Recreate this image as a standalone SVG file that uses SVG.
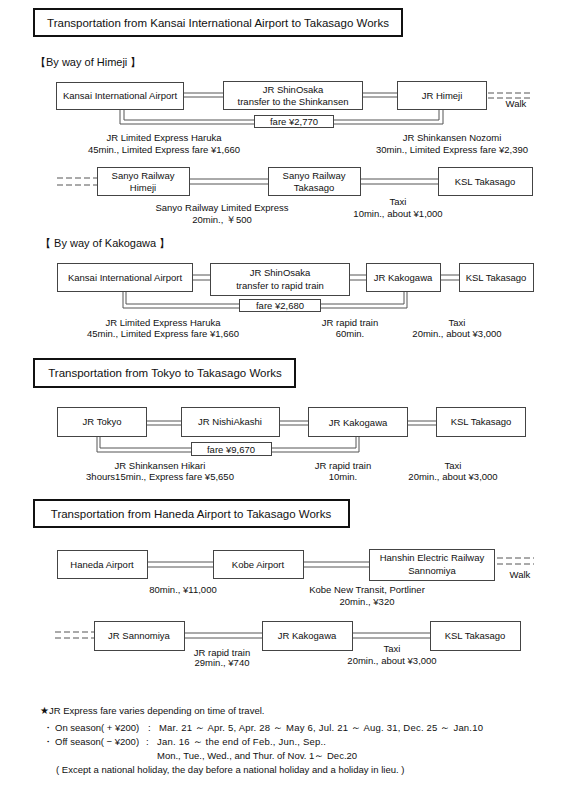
<svg xmlns="http://www.w3.org/2000/svg" width="570" height="785" viewBox="0 0 570 785">
<style>
text{font-family:"Liberation Sans",Arial,sans-serif;font-size:9.5px;fill:#111}
.c{text-anchor:middle}
.title{fill:#fff;stroke:#111;stroke-width:2}
.tt{font-size:11.5px}
.sub{font-size:11px}
.box{fill:#fff;stroke:#444;stroke-width:1}
.ln{fill:none;stroke:#555;stroke-width:1}
.dash{fill:none;stroke:#555;stroke-width:1;stroke-dasharray:6,3}
</style>
<rect width="570" height="785" fill="#fff"/>

<g id="connectors">
  <!-- Himeji row -->
  <path class="ln" d="M183,93H223M183,97H223M362,93H397M362,97H397"/>
  <path class="dash" d="M488,93H532M488,98H532"/>
  <path class="ln" d="M120,109V124H254M124,109V120H254M333,124H443V109M333,120H439V109"/>
  <!-- Sanyo row -->
  <path class="dash" d="M57,178H97M57,185H97"/>
  <path class="ln" d="M189,179H268M189,184H268M360,179H438M360,184H438"/>
  <!-- Kakogawa row -->
  <path class="ln" d="M192,275H210M192,280H210M349,275H366M349,280H366M440,275H459M440,280H459"/>
  <path class="ln" d="M123,292V308H239M126,292V304H239M320,308H407V292M320,304H404V292"/>
  <!-- Tokyo row -->
  <path class="ln" d="M146,421H181M146,425H181M279,421H308M279,425H308M407,421H436M407,425H436"/>
  <path class="ln" d="M97,436V452H191M100,436V448H191M271,452H359V436M271,448H356V436"/>
  <!-- Haneda row -->
  <path class="ln" d="M147,562H213M147,567H213M303,562H369M303,567H369"/>
  <path class="dash" d="M497,558H534M497,564H534"/>
  <!-- Sannomiya row -->
  <path class="dash" d="M55,632H94M55,638H94"/>
  <path class="ln" d="M184,633H262M184,638H262M352,633H430M352,638H430"/>
</g>

<g id="title1"><rect class="title" x="34" y="9" width="368" height="27"/><text class="c tt" x="218" y="27">Transportation from Kansai International Airport to Takasago Works</text></g>
<g id="sub1"><text class="sub" x="35" y="66">【By way of Himeji 】</text></g>

<g id="n-kix1"><rect class="box" x="56.5" y="82.5" width="127" height="27"/><text class="c" x="120" y="99">Kansai International Airport</text></g>
<g id="n-shinosaka1"><rect class="box" x="223.5" y="81.5" width="139" height="28"/><text class="c" x="293" y="93">JR ShinOsaka</text><text class="c" x="293" y="105">transfer to the Shinkansen</text></g>
<g id="n-himeji"><rect class="box" x="397.5" y="81.5" width="89" height="28"/><text class="c" x="442" y="99">JR Himeji</text></g>
<g id="n-fare1"><rect class="box" x="254.5" y="115.5" width="79" height="12"/><text class="c" x="294" y="125">fare ¥2,770</text></g>
<g id="walk1"><text class="c" x="516" y="107">Walk</text></g>
<g id="lbl1"><text class="c" x="164" y="141">JR Limited Express Haruka</text><text class="c" x="164" y="153">45min., Limited Express fare ¥1,660</text>
<text class="c" x="452" y="141">JR Shinkansen Nozomi</text><text class="c" x="452" y="153">30min., Limited Express fare ¥2,390</text></g>

<g id="n-sanyohimeji"><rect class="box" x="97.5" y="167.5" width="92" height="28"/><text class="c" x="143" y="179">Sanyo Railway</text><text class="c" x="143" y="191">Himeji</text></g>
<g id="n-sanyotakasago"><rect class="box" x="268.5" y="167.5" width="92" height="28"/><text class="c" x="314" y="179">Sanyo Railway</text><text class="c" x="314" y="191">Takasago</text></g>
<g id="n-ksl1"><rect class="box" x="438.5" y="167.5" width="94" height="28"/><text class="c" x="485" y="185">KSL Takasago</text></g>
<g id="lbl2"><text class="c" x="222" y="211">Sanyo Railway Limited Express</text><text class="c" x="222" y="223">20min., ￥500</text>
<text class="c" x="398" y="205">Taxi</text><text class="c" x="398" y="217">10min., about ¥1,000</text></g>

<g id="sub2"><text class="sub" x="40" y="247">【 By way of Kakogawa 】</text></g>
<g id="n-kix2"><rect class="box" x="57.5" y="263.5" width="135" height="28"/><text class="c" x="125" y="281">Kansai International Airport</text></g>
<g id="n-shinosaka2"><rect class="box" x="210.5" y="263.5" width="139" height="32"/><text class="c" x="280" y="276">JR ShinOsaka</text><text class="c" x="280" y="289">transfer to rapid train</text></g>
<g id="n-kako1"><rect class="box" x="366.5" y="263.5" width="74" height="28"/><text class="c" x="403" y="281">JR Kakogawa</text></g>
<g id="n-ksl2"><rect class="box" x="459.5" y="263.5" width="74" height="28"/><text class="c" x="496" y="281">KSL Takasago</text></g>
<g id="n-fare2"><rect class="box" x="239.5" y="299.5" width="81" height="12"/><text class="c" x="280" y="309">fare ¥2,680</text></g>
<g id="lbl3"><text class="c" x="163" y="326">JR Limited Express Haruka</text><text class="c" x="163" y="337">45min., Limited Express fare ¥1,660</text>
<text class="c" x="350" y="326">JR rapid train</text><text class="c" x="350" y="337">60min.</text>
<text class="c" x="457" y="326">Taxi</text><text class="c" x="457" y="337">20min., about ¥3,000</text></g>

<g id="title2"><rect class="title" x="34" y="359" width="261" height="28"/><text class="c tt" x="165" y="377">Transportation from Tokyo to Takasago Works</text></g>
<g id="n-tokyo"><rect class="box" x="57.5" y="407.5" width="89" height="29"/><text class="c" x="102" y="425">JR Tokyo</text></g>
<g id="n-nishiakashi"><rect class="box" x="181.5" y="407.5" width="98" height="29"/><text class="c" x="230" y="425">JR NishiAkashi</text></g>
<g id="n-kako2"><rect class="box" x="308.5" y="407.5" width="99" height="29"/><text class="c" x="358" y="426">JR Kakogawa</text></g>
<g id="n-ksl3"><rect class="box" x="436.5" y="407.5" width="89" height="29"/><text class="c" x="481" y="425">KSL Takasago</text></g>
<g id="n-fare3"><rect class="box" x="191.5" y="442.5" width="80" height="13"/><text class="c" x="231" y="453">fare ¥9,670</text></g>
<g id="lbl4"><text class="c" x="160" y="469">JR Shinkansen Hikari</text><text class="c" x="160" y="480">3hours15min., Express fare ¥5,650</text>
<text class="c" x="343" y="469">JR rapid train</text><text class="c" x="343" y="480">10min.</text>
<text class="c" x="453" y="469">Taxi</text><text class="c" x="453" y="480">20min., about ¥3,000</text></g>

<g id="title3"><rect class="title" x="34" y="500" width="315" height="27"/><text class="c tt" x="191" y="518">Transportation from Haneda Airport to Takasago Works</text></g>
<g id="n-haneda"><rect class="box" x="57.5" y="550.5" width="90" height="28"/><text class="c" x="102" y="568">Haneda Airport</text></g>
<g id="n-kobe"><rect class="box" x="213.5" y="550.5" width="90" height="28"/><text class="c" x="258" y="568">Kobe Airport</text></g>
<g id="n-hanshin"><rect class="box" x="369.5" y="549.5" width="125" height="31"/><text class="c" x="432" y="561">Hanshin Electric Railway</text><text class="c" x="432" y="574">Sannomiya</text></g>
<g id="walk2"><text class="c" x="520" y="578">Walk</text></g>
<g id="lbl5"><text class="c" x="183" y="593">80min.,  ¥11,000</text>
<text class="c" x="367" y="593">Kobe New Transit, Portliner</text><text class="c" x="367" y="605">20min.,  ¥320</text></g>

<g id="n-sannomiya"><rect class="box" x="94.5" y="621.5" width="90" height="29"/><text class="c" x="139" y="639">JR Sannomiya</text></g>
<g id="n-kako3"><rect class="box" x="262.5" y="621.5" width="90" height="29"/><text class="c" x="307" y="639">JR Kakogawa</text></g>
<g id="n-ksl4"><rect class="box" x="430.5" y="621.5" width="90" height="29"/><text class="c" x="475" y="639">KSL Takasago</text></g>
<g id="lbl6"><text class="c" x="222" y="656">JR rapid train</text><text class="c" x="222" y="666">29min.,  ¥740</text>
<text class="c" x="392" y="652">Taxi</text><text class="c" x="392" y="664">20min.,  about ¥3,000</text></g>

<g id="notes">
  <text x="40" y="714">★JR Express fare varies depending on time of travel.</text>
  <text x="43" y="731">・</text>
  <text x="55" y="731">On season( + ¥200)</text>
  <text x="148" y="731">:</text>
  <text x="159" y="731" textLength="324" lengthAdjust="spacing">Mar. 21 ～ Apr. 5,  Apr. 28 ～ May 6,  Jul. 21 ～ Aug. 31,  Dec. 25 ～ Jan.10</text>
  <text x="43" y="745">・</text>
  <text x="55" y="745">Off season( − ¥200)</text>
  <text x="146" y="745">:</text>
  <text x="157" y="745" textLength="169" lengthAdjust="spacing">Jan. 16 ～ the end of Feb., Jun., Sep..</text>
  <text x="157" y="759">Mon., Tue., Wed., and Thur. of Nov. 1～ Dec.20</text>
  <text x="56" y="773">( Except a national holiday, the day before a national holiday and a holiday in lieu. )</text>
</g>
</svg>
